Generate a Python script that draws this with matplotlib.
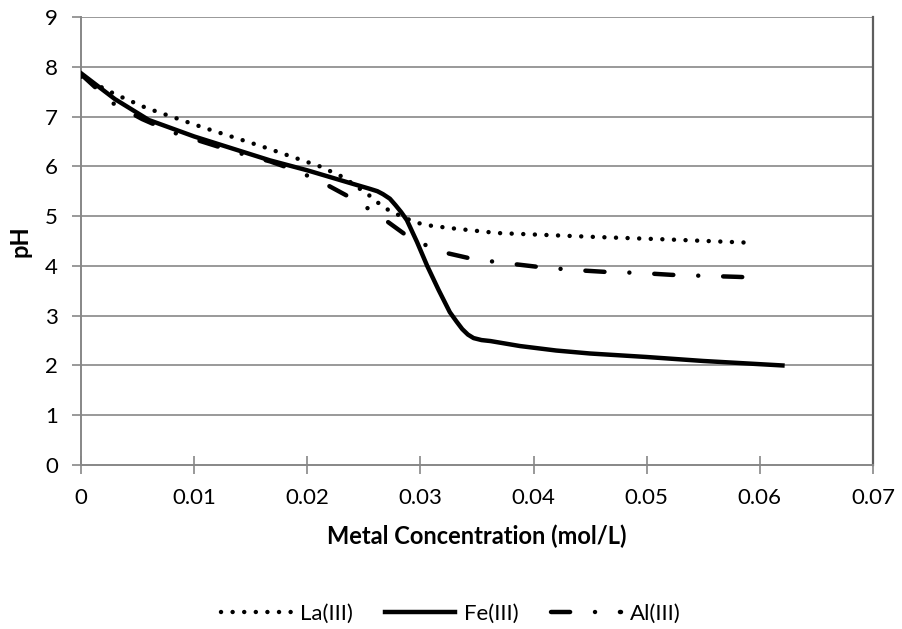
import matplotlib
matplotlib.use('Agg')
import matplotlib.pyplot as plt

la_x = [0, 0.003, 0.0058, 0.0108, 0.016, 0.0211, 0.0232, 0.0257, 0.0266, 0.0275,
        0.0295, 0.0305, 0.0326, 0.0368, 0.0456, 0.052, 0.0586]
la_y = [7.8, 7.45, 7.17, 6.78, 6.4, 6.0, 5.78, 5.38, 5.2, 5.08,
        4.88, 4.82, 4.76, 4.66, 4.58, 4.53, 4.47]

fe_x = [0, 0.003, 0.006, 0.01, 0.0167, 0.02, 0.024, 0.0255, 0.0262, 0.0267, 0.0273,
        0.0278, 0.0283, 0.0288, 0.0297, 0.0306, 0.0316, 0.0326, 0.0332, 0.0337,
        0.0342, 0.0347, 0.0354, 0.0362, 0.0388, 0.042, 0.045, 0.05, 0.055, 0.062]
fe_y = [7.87, 7.35, 6.93, 6.6, 6.12, 5.92, 5.65, 5.55, 5.5, 5.44, 5.35,
        5.22, 5.08, 4.92, 4.48, 4.0, 3.52, 3.07, 2.88, 2.73,
        2.62, 2.55, 2.51, 2.49, 2.39, 2.3, 2.24, 2.17, 2.09, 2.0]

al_x = [0, 0.0012, 0.0028, 0.0054, 0.008, 0.0108, 0.0136, 0.0167, 0.0192, 0.0218,
        0.0244, 0.0269, 0.0292, 0.0319, 0.0346, 0.037, 0.0404, 0.0434, 0.0463,
        0.0493, 0.0522, 0.0551, 0.058, 0.0602]
al_y = [7.85, 7.6, 7.27, 6.95, 6.69, 6.49, 6.29, 6.1, 5.9, 5.62,
        5.3, 4.92, 4.54, 4.28, 4.14, 4.07, 3.98, 3.92, 3.88,
        3.86, 3.82, 3.8, 3.78, 3.76]

xticks = [0, 0.01, 0.02, 0.03, 0.04, 0.05, 0.06, 0.07]
xticklabels = ['0', '0.01', '0.02', '0.03', '0.04', '0.05', '0.06', '0.07']
yticks = list(range(0, 10))

plt.rcParams['font.family'] = ['Lato', 'DejaVu Sans']

fig = plt.figure(figsize=(9.02, 6.29), dpi=100)
ax = fig.add_axes([0.0898, 0.2607, 0.878, 0.7123])

grid_col = '#878787'
for v in yticks[1:]:
    ax.axhline(v, color=grid_col, lw=1.2, zorder=1)

ax.plot(la_x, la_y, color='black', lw=3.2, dashes=(0.01, 2.6),
        dash_capstyle='round', label='La(III)', zorder=3)
ax.plot(fe_x, fe_y, color='black', lw=3.2, solid_joinstyle='round',
        label='Fe(III)', zorder=3)
ax.plot(al_x, al_y, color='black', lw=3.2, dashes=(4.3, 5.6, 0.01, 5.6),
        dash_capstyle='round', label='Al(III)', zorder=3)

ax.set_xlim(0, 0.07)
ax.set_ylim(0, 9)
ax.set_xticks(xticks)
ax.set_xticklabels(xticklabels)
ax.set_yticks(yticks)

for s in ['left', 'bottom']:
    ax.spines[s].set_color(grid_col)
    ax.spines[s].set_linewidth(1.4)
ax.spines['right'].set_color('#5e5e5e')
ax.spines['right'].set_linewidth(1.6)
ax.spines['top'].set_visible(False)

ax.tick_params(axis='both', colors=grid_col, labelcolor='black', labelsize=16, width=1.2)
ax.tick_params(axis='x', direction='inout', length=13, pad=10)
ax.tick_params(axis='y', direction='out', length=6.5, pad=10)

ax.set_xlabel('Metal Concentration (mol/L)', fontsize=17, fontweight='bold', labelpad=12)
ax.set_ylabel('pH', fontsize=17, fontweight='bold', labelpad=10)

fig.legend(loc='center', bbox_to_anchor=(0.5, 0.024), ncol=3, frameon=False,
           fontsize=16, handlelength=3.15, columnspacing=1.45, handletextpad=0.4)

fig.savefig('out.png', dpi=100)
